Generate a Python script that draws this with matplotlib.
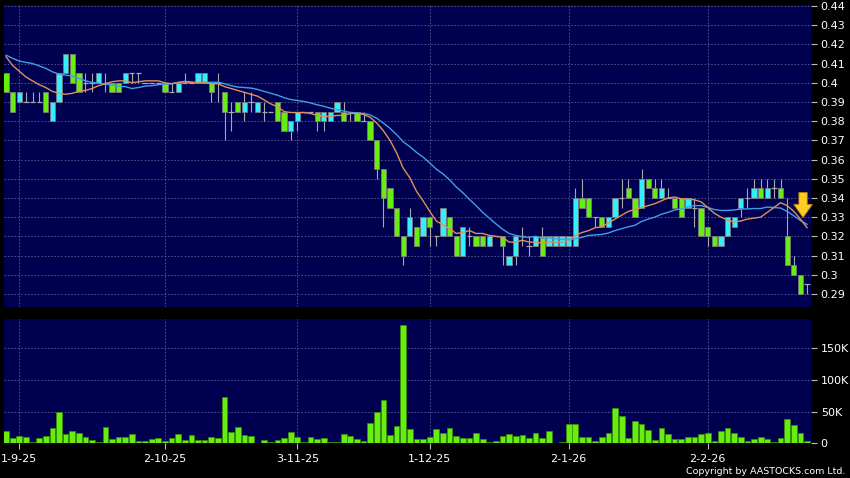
import matplotlib
matplotlib.use('Agg')
import matplotlib.pyplot as plt
import pandas as pd

# daily candles, index 0 = 28-8-25 (two sessions before the first label)
opens = [.405, .395, .39, .39, .39, .39, .395, .38, .39, .405,
         .415, .405, .40, .40, .40, .40, .40, .40, .40, .405,
         .405, .40, .40, .40, .40, .395, .395, .40, .40, .40,
         .40, .40, .40, .395, .385, .39, .385, .39, .385, .385,
         .385, .39, .385, .375, .38, .385, .385, .385, .38, .38,
         .385, .385, .385, .385, .38, .38, .37, .355, .345, .335,
         .32, .32, .325, .32, .33, .32, .32, .33, .32, .31,
         .32, .32, .32, .315, .32, .32, .305, .31, .32, .315,
         .315, .32, .315, .315, .315, .315, .315, .34, .34, .33,
         .33, .325, .33, .34, .345, .34, .335, .35, .345, .34,
         .34, .34, .34, .335, .335, .335, .325, .32, .315, .32,
         .325, .335, .34, .34, .345, .34, .345, .345, .32, .305,
         .30, .295]
highs = [.405, .395, .395, .395, .395, .395, .395, .39, .405, .415,
         .415, .405, .405, .405, .405, .405, .40, .40, .405, .405,
         .405, .40, .40, .40, .40, .40, .40, .405, .40, .405,
         .405, .40, .405, .395, .39, .39, .395, .395, .39, .39,
         .385, .39, .385, .38, .385, .385, .385, .385, .385, .385,
         .39, .39, .385, .385, .385, .38, .37, .355, .345, .335,
         .32, .335, .325, .33, .33, .32, .335, .33, .32, .325,
         .325, .32, .32, .32, .32, .32, .31, .32, .325, .32,
         .32, .325, .32, .32, .32, .32, .345, .35, .34, .33,
         .33, .33, .34, .35, .35, .34, .355, .35, .35, .35,
         .345, .34, .34, .34, .34, .335, .325, .32, .32, .33,
         .33, .34, .345, .35, .35, .35, .35, .35, .34, .31,
         .30, .295]
lows = [.395, .385, .39, .39, .39, .39, .385, .38, .39, .405,
        .40, .395, .395, .395, .40, .395, .395, .395, .40, .40,
        .40, .40, .40, .40, .395, .395, .395, .40, .40, .40,
        .40, .39, .39, .37, .375, .385, .38, .385, .385, .38,
        .385, .38, .375, .37, .375, .385, .385, .375, .375, .38,
        .385, .38, .38, .38, .38, .37, .35, .325, .335, .32,
        .305, .32, .315, .32, .315, .315, .32, .32, .31, .31,
        .315, .315, .315, .315, .32, .305, .305, .305, .315, .31,
        .315, .31, .315, .315, .315, .315, .315, .335, .33, .325,
        .325, .325, .33, .335, .34, .33, .335, .345, .34, .34,
        .34, .335, .33, .335, .325, .32, .315, .315, .315, .32,
        .325, .33, .335, .34, .34, .34, .34, .34, .305, .30,
        .29, .29]
closes = [.395, .385, .395, .39, .39, .39, .385, .39, .405, .415,
          .40, .395, .40, .40, .405, .40, .395, .395, .405, .405,
          .405, .40, .40, .40, .395, .395, .40, .40, .40, .405,
          .405, .395, .40, .385, .385, .385, .39, .39, .39, .385,
          .385, .38, .375, .38, .385, .385, .385, .38, .385, .385,
          .39, .38, .385, .38, .38, .37, .355, .34, .335, .32,
          .31, .33, .315, .33, .325, .32, .335, .32, .31, .325,
          .32, .315, .315, .32, .32, .315, .31, .32, .32, .315,
          .32, .31, .32, .32, .32, .32, .34, .335, .33, .33,
          .325, .33, .34, .34, .34, .33, .35, .345, .34, .345,
          .34, .335, .33, .34, .335, .32, .32, .315, .32, .33,
          .33, .34, .34, .345, .34, .345, .345, .34, .305, .30,
          .29, .295]
volumes_k = [20, 8, 11.5, 10, 1.5, 8.5, 12, 24, 49, 15,
             19, 17, 10, 5, 2, 25, 6, 9.5, 10, 15,
             4, 4, 6, 8, 4, 8.5, 15, 5, 12.5, 5,
             5, 10, 8.5, 73, 18, 26, 12.5, 12, 0.5, 5,
             1.5, 5, 9, 18, 9.5, 1.5, 9.5, 6, 8, 1.5,
             1.5, 14, 12, 7, 3, 32, 50, 69, 13.5, 28,
             186, 23, 7, 6, 10.5, 22, 16, 24, 11.5, 8.5,
             8, 17, 6, 2.5, 3.5, 11.5, 15, 12, 12.5, 8,
             16, 9, 19.5, 0, 2, 30.5, 30.5, 9.5, 10.5, 4,
             10.5, 17, 55, 43, 8.5, 35, 30, 21, 5, 24,
             15, 6, 6, 9.5, 9.5, 15, 16, 4, 19.5, 24,
             16, 9.5, 4, 6, 10, 6, 2, 8, 38, 29,
             17, 3]
# moving averages before enough history is on the chart
ma10_lead = [.4135, .409, .406, .403, .401, .399, .3975, .3955, .3945]
ma20_lead = [.4144, .4127, .4113, .4106, .410, .4088, .4075, .4057, .4045, .404,
             .4035, .4022, .401, .4002, .3997, .3993, .3988, .3982, .398]

date_ticks = [2, 24, 44, 64, 85, 106]
date_labels = ['1-9-25', '2-10-25', '3-11-25', '1-12-25', '2-1-26', '2-2-26']
price_ticks = [0.29, 0.30, 0.31, 0.32, 0.33, 0.34, 0.35, 0.36, 0.37, 0.38,
               0.39, 0.40, 0.41, 0.42, 0.43, 0.44]
vol_ticks = [0, 50, 100, 150]
vol_labels = ['0', '50K', '100K', '150K']
arrow_top, arrow_tip = 0.3428, 0.3298

UP = '#33EEFF'
DOWN = '#66EE11'
NAVY = '#000050'
GRID = '#5a5a90'
WICK = '#a8a8a8'

n = len(closes)
x = list(range(n))
s = pd.Series(closes)
ma10 = s.rolling(10).mean().tolist()
ma20 = s.rolling(20).mean().tolist()
ma10[:len(ma10_lead)] = ma10_lead
ma20[:len(ma20_lead)] = ma20_lead

fig = plt.figure(figsize=(8.5, 4.78), dpi=100, facecolor='black')
ax = fig.add_axes([4 / 850, 171 / 478, 807 / 850, 302 / 478])
ax2 = fig.add_axes([4 / 850, 34.7 / 478, 807 / 850, 124.3 / 478], sharex=ax)

for a in (ax, ax2):
    a.set_facecolor(NAVY)
    for sp in a.spines.values():
        sp.set_visible(False)
    a.yaxis.tick_right()
    a.tick_params(axis='y', colors='#bbbbbb', labelcolor='white', labelsize=8,
                  length=4, width=0.8, pad=3)
    a.set_xticks(date_ticks)
    a.grid(True, ls=(0, (2, 2)), color=GRID, lw=0.6)
    a.set_axisbelow(True)

# candles
body_x, body_b, body_h, body_c = [], [], [], []
doji_x, doji_y = [], []
for i in x:
    o, c = opens[i], closes[i]
    if o == c:
        doji_x.append(i)
        doji_y.append(o)
    else:
        body_x.append(i)
        body_b.append(min(o, c))
        body_h.append(abs(c - o))
        body_c.append(UP if c > o else DOWN)
ax.vlines(x, lows, highs, color=WICK, lw=0.8, zorder=2)
ax.hlines(doji_y, [i - 0.4 for i in doji_x], [i + 0.4 for i in doji_x],
          color=WICK, lw=0.9, zorder=2)
ax.bar(body_x, body_h, bottom=body_b, width=0.8, color=body_c,
       edgecolor='#7a7a7a', lw=0.6, zorder=3)
ax.plot(x, ma20, color='#3f9fe6', lw=1.0, zorder=4)
ax.plot(x, ma10, color='#e0905a', lw=1.0, zorder=4)

# arrow marking the latest signal
ax.annotate('', xy=(n - 1.6, arrow_tip), xytext=(n - 1.6, arrow_top),
            arrowprops=dict(arrowstyle='simple,head_width=1.35,head_length=0.95,tail_width=0.6',
                            mutation_scale=10, shrinkA=0, shrinkB=0,
                            fc='#ffcc22', ec='#c08000', lw=0.6), zorder=5)

ax.set_ylim(0.2832, 0.4405)
ax.set_yticks(price_ticks)
ax.set_yticklabels(['%g' % t for t in price_ticks])
ax.tick_params(axis='x', length=0, labelbottom=False)
ax.set_xlim(-0.31, 121.6)

ax2.bar(x, volumes_k, width=0.86, color='#66ee11', edgecolor='#3c9000', lw=0.5, zorder=3)
ax2.set_ylim(0, 196)
ax2.set_yticks(vol_ticks)
ax2.set_yticklabels(vol_labels)
ax2.set_xticklabels(date_labels)
ax2.tick_params(axis='x', colors='#bbbbbb', labelcolor='white', labelsize=8,
                length=4, width=0.8, pad=4)

fig.text(845 / 850, 1 - 471 / 478, 'Copyright by AASTOCKS.com Ltd.', color='white',
         fontsize=6.8, ha='right', va='center')

fig.savefig('out.png', dpi=100, facecolor='black')
